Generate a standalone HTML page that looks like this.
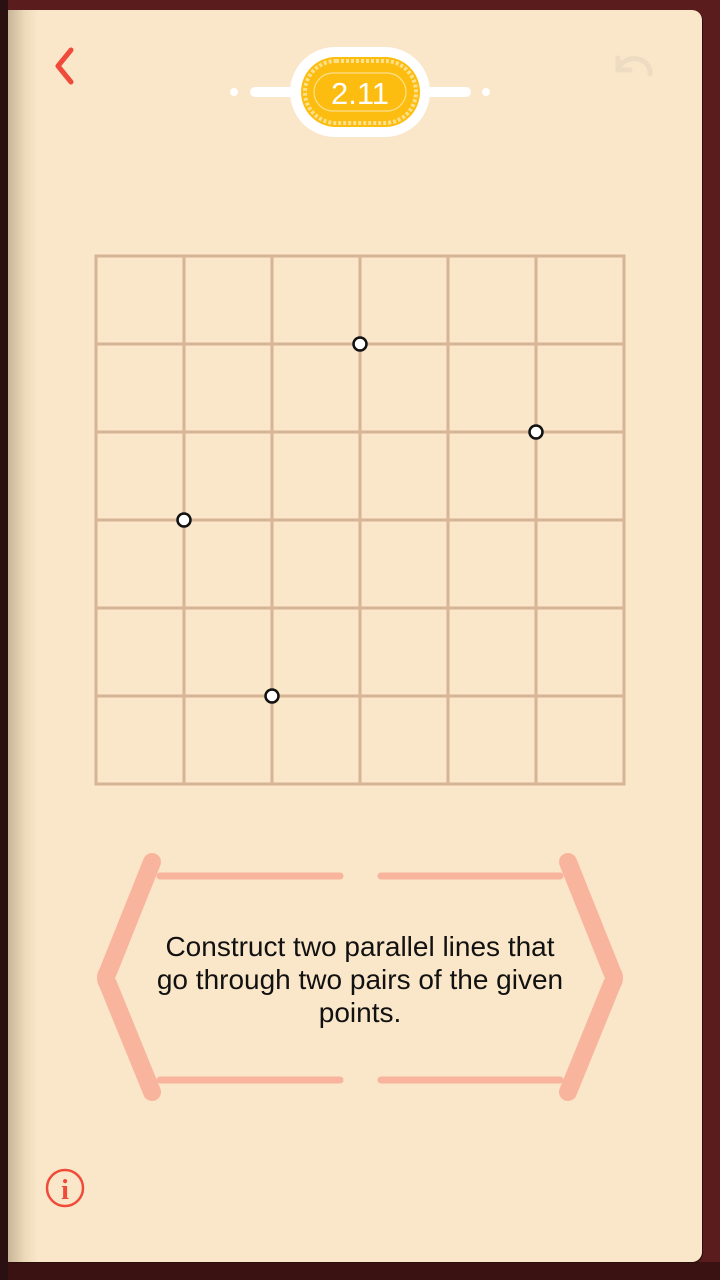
<!DOCTYPE html>
<html><head><meta charset="utf-8"><style>
html,body{margin:0;padding:0;width:720px;height:1280px;overflow:hidden;background:#5a1c1c;font-family:"Liberation Sans",sans-serif}
#page{position:absolute;left:8px;top:10px;width:694px;height:1252px;background:#fae6c8;border-radius:0 10px 10px 0;box-shadow:1px 1px 0 #2a0e0e}
#spine{position:absolute;left:0;top:0;width:30px;height:1252px;background:linear-gradient(90deg,#c8b496,#efdcbd 60%,#fae6c8)}
#darkbar{position:absolute;left:0;top:0;width:8px;height:1280px;background:#2a1010}
#bottom{position:absolute;left:0;top:1262px;width:720px;height:18px;background:#3a1212}
</style></head><body>
<div id="bottom"></div>
<div id="darkbar"></div>
<div id="page"><div id="spine"></div></div>
<svg width="720" height="1280" style="position:absolute;left:0;top:0">
  <path d="M71 50 L58 66 L71 82" fill="none" stroke="#f04a3a" stroke-width="5" stroke-linecap="round" stroke-linejoin="round"/>
  <g fill="none" stroke="#eddcc2" stroke-width="5" stroke-linecap="round">
    <path d="M620 66 A16 14 0 0 1 650 74"/><path d="M618 58 L618 70 L630 70" stroke-linejoin="round"/>
  </g>
  <g>
    <circle cx="234" cy="92" r="4" fill="#fff"/><circle cx="486" cy="92" r="4" fill="#fff"/>
    <line x1="255" y1="92" x2="466" y2="92" stroke="#fff" stroke-width="10" stroke-linecap="round"/>
    <rect x="290" y="47" width="140" height="90" rx="45" fill="#fff"/>
    <rect x="301" y="57" width="119" height="70" rx="35" fill="#fdbd10"/>
    <rect x="305" y="61" width="111" height="62" rx="31" fill="none" stroke="#fde08a" stroke-width="4" stroke-dasharray="3 2"/>
    <rect x="314" y="73" width="92" height="38" rx="19" fill="none" stroke="#fde08a" stroke-width="1.2"/>
    <text x="360" y="104" font-size="31" fill="#fff" text-anchor="middle">2.11</text>
  </g>
  <g id="grid"></g>
  <g fill="#f8b49c" stroke="#f8b49c">
    <path d="M152 862 L108 972 Q104 978 108 984 L152 1092" fill="none" stroke-width="18" stroke-linecap="round" stroke-linejoin="round"/>
    <path d="M568 862 L612 972 Q616 978 612 984 L568 1092" fill="none" stroke-width="18" stroke-linecap="round" stroke-linejoin="round"/>
    <g stroke-width="7" stroke-linecap="round">
      <line x1="160" y1="876" x2="340" y2="876"/><line x1="381" y1="876" x2="560" y2="876"/>
      <line x1="160" y1="1080" x2="340" y2="1080"/><line x1="381" y1="1080" x2="560" y2="1080"/>
    </g>
  </g>
  <g font-size="28" fill="#111" stroke="none" text-anchor="middle">
    <text x="360" y="956">Construct two parallel lines that</text>
    <text x="360" y="989">go through two pairs of the given</text>
    <text x="360" y="1022">points.</text>
  </g>
  <g>
    <circle cx="65" cy="1188" r="18" fill="none" stroke="#f04a3a" stroke-width="2.5"/>
    <text x="65" y="1199" font-family="Liberation Serif,serif" font-weight="bold" font-size="28" fill="#f04a3a" text-anchor="middle">i</text>
  </g>
</svg>
<script>
const gridCols=[0,1,2,3,4,5,6];
const gridRows=[0,1,2,3,4,5,6];
const pointCol=[3,5,1,2];
const pointRow=[1,2,3,5];
const NS="http://www.w3.org/2000/svg";
const g=document.getElementById('grid');
const X=c=>96+c*88, Y=r=>256+r*88;
gridCols.forEach(c=>{const l=document.createElementNS(NS,'line');
l.setAttribute('x1',X(c));l.setAttribute('x2',X(c));l.setAttribute('y1',Y(0));l.setAttribute('y2',Y(6));
l.setAttribute('stroke','#d8b496');l.setAttribute('stroke-width','3');


g.appendChild(l);});
gridRows.forEach(r=>{const l=document.createElementNS(NS,'line');
l.setAttribute('y1',Y(r));l.setAttribute('y2',Y(r));l.setAttribute('x1',X(0)-1.5);l.setAttribute('x2',X(6)+1.5);
l.setAttribute('stroke','#d8b496');l.setAttribute('stroke-width','3');


g.appendChild(l);});
pointCol.forEach((c,i)=>{const p=document.createElementNS(NS,'circle');
p.setAttribute('cx',X(c));p.setAttribute('cy',Y(pointRow[i]));p.setAttribute('r','6.5');
p.setAttribute('fill','#fff');p.setAttribute('stroke','#111');p.setAttribute('stroke-width','2.5');


g.appendChild(p);});
</script>
</body></html>
